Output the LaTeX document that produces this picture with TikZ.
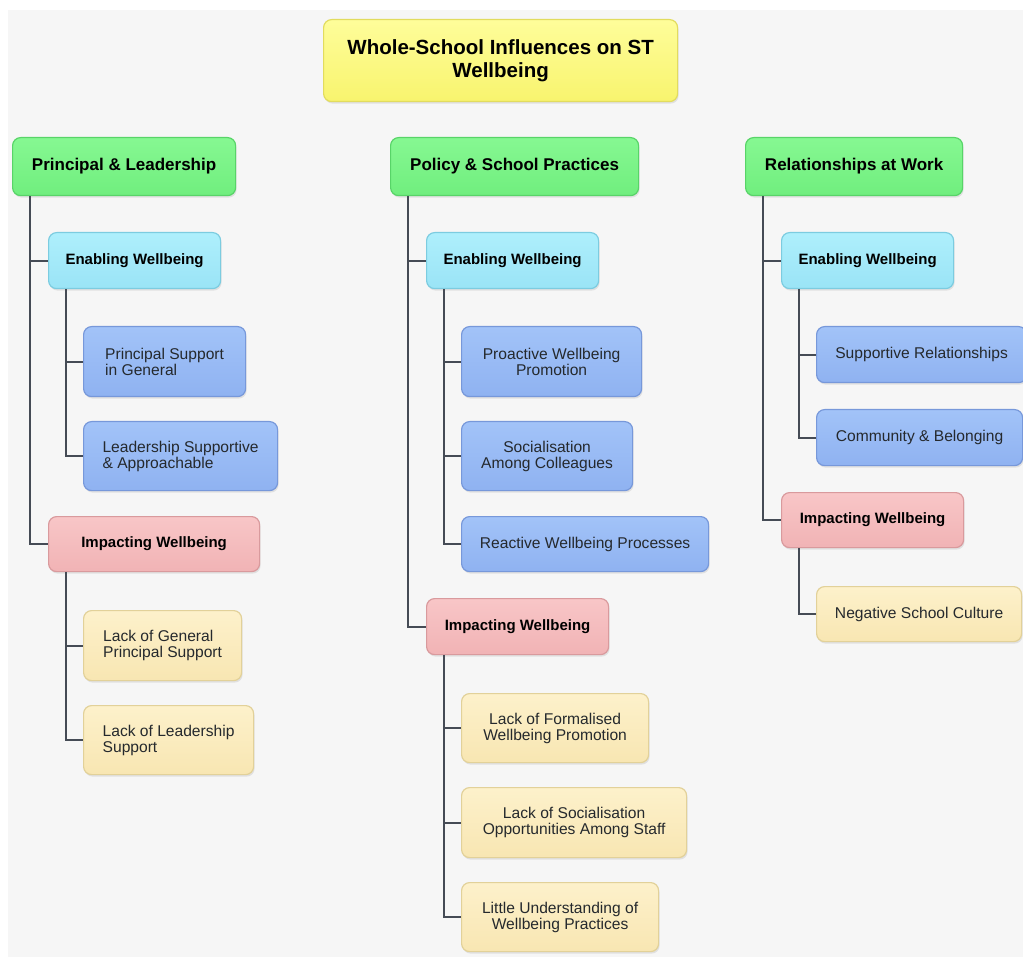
\documentclass[tikz,border=0pt]{standalone}
\usepackage{fontspec}
\setmainfont{Liberation Sans}
\usetikzlibrary{shadows}
\definecolor{bgpanel}{HTML}{F6F6F6}
\definecolor{linec}{HTML}{454B55}
\definecolor{ylwT}{HTML}{FEFD9A}\definecolor{ylwB}{HTML}{F8F46E}\definecolor{ylwD}{HTML}{E2DC5E}
\definecolor{grnT}{HTML}{86F892}\definecolor{grnB}{HTML}{70EE7E}\definecolor{grnD}{HTML}{58D468}
\definecolor{cynT}{HTML}{AEEFFC}\definecolor{cynB}{HTML}{9AE4F6}\definecolor{cynD}{HTML}{7CCCE0}
\definecolor{bluT}{HTML}{A2C3F8}\definecolor{bluB}{HTML}{8FB2F1}\definecolor{bluD}{HTML}{7798DA}
\definecolor{pnkT}{HTML}{F8C6C7}\definecolor{pnkB}{HTML}{F1B3B5}\definecolor{pnkD}{HTML}{D99A9D}
\definecolor{crmT}{HTML}{FDF1CB}\definecolor{crmB}{HTML}{F8E6B2}\definecolor{crmD}{HTML}{E2D199}
\definecolor{leaftxt}{HTML}{25292D}
\tikzset{
  box/.style={rounded corners=8pt, line width=1.2pt, inner sep=0pt, anchor=north west,
    drop shadow={opacity=0.18, shadow xshift=1pt, shadow yshift=-2pt}},
  titlebox/.style={box, top color=ylwT, bottom color=ylwB, draw=ylwD,
    font=\fontsize{20.5}{23}\selectfont\bfseries, align=center},
  catbox/.style={box, top color=grnT, bottom color=grnB, draw=grnD,
    font=\fontsize{17}{19}\selectfont\bfseries},
  enbox/.style={box, top color=cynT, bottom color=cynB, draw=cynD,
    font=\fontsize{15}{17}\selectfont\bfseries},
  imbox/.style={box, top color=pnkT, bottom color=pnkB, draw=pnkD,
    font=\fontsize{15}{17}\selectfont\bfseries},
  posbox/.style={box, top color=bluT, bottom color=bluB, draw=bluD, text=leaftxt,
    font=\fontsize{15.6}{16}\selectfont},
  negbox/.style={box, top color=crmT, bottom color=crmB, draw=crmD, text=leaftxt,
    font=\fontsize{15.6}{16}\selectfont},
  conn/.style={draw=linec, line width=2pt},
}
\begin{document}
\begin{tikzpicture}[x=1pt,y=-1pt]
\useasboundingbox (0,0) rectangle (1023,957);
\fill[white] (0,0) rectangle (1023,957);
\fill[bgpanel] (8,10) rectangle (1023,957);

% title
\node[titlebox, minimum width=354pt, minimum height=82pt] (title) at (323,19) {Whole-School Influences on ST\\Wellbeing};

% column 1
\node[catbox, minimum width=223pt, minimum height=58pt] (pl) at (12,137) {Principal \& Leadership};
\node[enbox, minimum width=172pt, minimum height=56pt] (en1) at (48,232) {Enabling Wellbeing};
\node[posbox, align=left, minimum width=162pt, minimum height=70pt] (p11) at (83,326) {Principal Support\\in General};
\node[posbox, align=left, minimum width=194pt, minimum height=69pt] (p12) at (83,421) {Leadership Supportive\\\& Approachable};
\node[imbox, minimum width=211pt, minimum height=55pt] (im1) at (48,516) {Impacting Wellbeing};
\node[negbox, align=left, minimum width=158pt, minimum height=70pt] (n11) at (83,610) {Lack of General\\Principal Support};
\node[negbox, align=left, minimum width=170pt, minimum height=69pt] (n12) at (83,705) {Lack of Leadership\\Support};

% column 2
\node[catbox, minimum width=248pt, minimum height=58pt] (ps) at (390,137) {Policy \& School Practices};
\node[enbox, minimum width=172pt, minimum height=56pt] (en2) at (426,232) {Enabling Wellbeing};
\node[posbox, align=center, minimum width=180pt, minimum height=70pt] (p21) at (461,326) {Proactive Wellbeing\\Promotion};
\node[posbox, align=center, minimum width=171pt, minimum height=69pt] (p22) at (461,421) {Socialisation\\Among Colleagues};
\node[posbox, minimum width=247pt, minimum height=55pt] (p23) at (461,516) {Reactive Wellbeing Processes};
\node[imbox, minimum width=182pt, minimum height=56pt] (im2) at (426,598) {Impacting Wellbeing};
\node[negbox, align=center, minimum width=187pt, minimum height=69pt] (n21) at (461,693) {Lack of Formalised\\Wellbeing Promotion};
\node[negbox, align=center, minimum width=225pt, minimum height=70pt] (n22) at (461,787) {Lack of Socialisation\\Opportunities Among Staff};
\node[negbox, align=center, minimum width=197pt, minimum height=69pt] (n23) at (461,882) {Little Understanding of\\Wellbeing Practices};

% column 3
\node[catbox, minimum width=217pt, minimum height=58pt] (rw) at (745,137) {Relationships at Work};
\node[enbox, minimum width=172pt, minimum height=56pt] (en3) at (781,232) {Enabling Wellbeing};
\node[posbox, minimum width=210pt, minimum height=56pt] (p31) at (816,326) {Supportive Relationships};
\node[posbox, minimum width=206pt, minimum height=56pt] (p32) at (816,409) {Community \& Belonging};
\node[imbox, minimum width=182pt, minimum height=55pt] (im3) at (781,492) {Impacting Wellbeing};
\node[negbox, minimum width=205pt, minimum height=55pt] (n31) at (816,586) {Negative School Culture};

% connectors
\draw[conn] ([xshift=18pt]pl.south west) |- (en1.west);
\draw[conn] ([xshift=18pt]pl.south west) |- (im1.west);
\draw[conn] ([xshift=18pt]en1.south west) |- (p11.west);
\draw[conn] ([xshift=18pt]en1.south west) |- (p12.west);
\draw[conn] ([xshift=18pt]im1.south west) |- (n11.west);
\draw[conn] ([xshift=18pt]im1.south west) |- (n12.west);

\draw[conn] ([xshift=18pt]ps.south west) |- (en2.west);
\draw[conn] ([xshift=18pt]ps.south west) |- (im2.west);
\draw[conn] ([xshift=18pt]en2.south west) |- (p21.west);
\draw[conn] ([xshift=18pt]en2.south west) |- (p22.west);
\draw[conn] ([xshift=18pt]en2.south west) |- (p23.west);
\draw[conn] ([xshift=18pt]im2.south west) |- (n21.west);
\draw[conn] ([xshift=18pt]im2.south west) |- (n22.west);
\draw[conn] ([xshift=18pt]im2.south west) |- (n23.west);

\draw[conn] ([xshift=18pt]rw.south west) |- (en3.west);
\draw[conn] ([xshift=18pt]rw.south west) |- (im3.west);
\draw[conn] ([xshift=18pt]en3.south west) |- (p31.west);
\draw[conn] ([xshift=18pt]en3.south west) |- (p32.west);
\draw[conn] ([xshift=18pt]im3.south west) |- (n31.west);
\end{tikzpicture}
\end{document}
